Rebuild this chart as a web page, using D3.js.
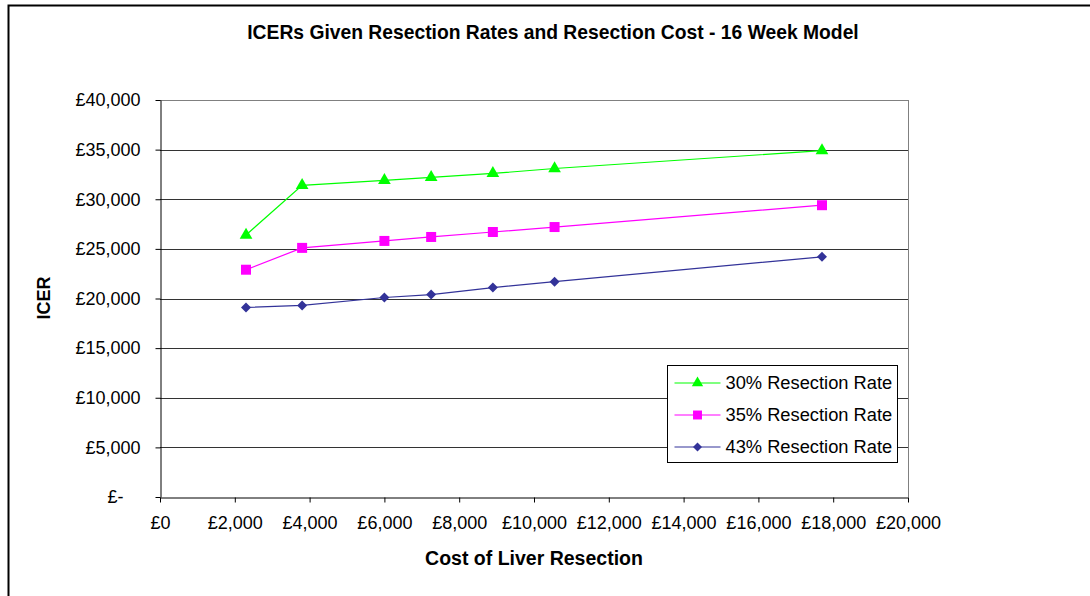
<!DOCTYPE html>
<html>
<head>
<meta charset="utf-8">
<script src="https://cdn.jsdelivr.net/npm/d3@7"></script>
<style>
  body { margin: 0; background: #fff; }
  svg text { font-family: "Liberation Sans", Arial, sans-serif; fill: #000; }
</style>
</head>
<body>
<div id="chart"></div>
<script>
const costs = [2300, 3800, 6000, 7250, 8900, 10550, 17700];
const rate30 = [26400, 31400, 31900, 32200, 32600, 33100, 34900];
const rate35 = [22900, 25100, 25800, 26200, 26700, 27200, 29400];
const rate43 = [19100, 19300, 20100, 20400, 21100, 21700, 24200];
const seriesNames = ["30% Resection Rate", "35% Resection Rate", "43% Resection Rate"];
const xTicks = d3.range(0, 20001, 2000);
const yTicks = d3.range(0, 40001, 5000);

const width = 1090, height = 596;
const margin = { top: 100, right: 182, bottom: 99, left: 160 };

// square diamond (rotated square), Excel style
const squareDiamond = {
  draw(context, size) {
    const r = Math.sqrt(size / 2);
    context.moveTo(0, -r);
    context.lineTo(r, 0);
    context.lineTo(0, r);
    context.lineTo(-r, 0);
    context.closePath();
  },
};

const series = [
  { name: seriesNames[0], values: rate30, color: "#00ff00", symbol: d3.symbolTriangle, size: 70 },
  { name: seriesNames[1], values: rate35, color: "#ff00ff", symbol: d3.symbolSquare, size: 100 },
  { name: seriesNames[2], values: rate43, color: "#333399", symbol: squareDiamond, size: 50 },
];

const svg = d3.select("#chart").append("svg")
  .attr("width", width)
  .attr("height", height);

// outer chart border (only left and top visible)
svg.append("path")
  .attr("d", `M8.5,${height} V5.5 H${width}`)
  .attr("fill", "none")
  .attr("stroke", "#000")
  .attr("stroke-width", 2);

const x = d3.scaleLinear().domain([0, 20000]).range([margin.left, width - margin.right]);
const y = d3.scaleLinear().domain([0, 40000]).range([height - margin.bottom, margin.top]);

const pound = (d) => "£" + d3.format(",")(d);

// gridlines
svg.append("g")
  .selectAll("line")
  .data(yTicks.filter((d) => d > 0))
  .join("line")
  .attr("x1", x(0))
  .attr("x2", x(20000))
  .attr("y1", (d) => Math.round(y(d)) + 0.5)
  .attr("y2", (d) => Math.round(y(d)) + 0.5)
  .attr("stroke", (d) => (d === 40000 ? "#808080" : "#333"))
  .attr("stroke-width", 1);

// plot area right border
svg.append("line")
  .attr("x1", Math.round(x(20000)) + 0.5)
  .attr("x2", Math.round(x(20000)) + 0.5)
  .attr("y1", y(40000))
  .attr("y2", y(0))
  .attr("stroke", "#808080");

// x axis
const xAxis = svg.append("g")
  .attr("transform", `translate(0,${Math.round(y(0)) + 0.5})`)
  .call(d3.axisBottom(x).tickValues(xTicks).tickFormat(pound).tickSize(5).tickSizeOuter(0));
xAxis.select(".domain").attr("stroke", "#000");
xAxis.selectAll(".tick line").attr("stroke", "#000");
xAxis.selectAll(".tick text")
  .attr("y", 19)
  .attr("font-size", 18)
  .attr("font-family", "Liberation Sans, Arial, sans-serif");

// y axis
const yAxis = svg.append("g")
  .attr("transform", `translate(${Math.round(x(0)) + 0.5},0)`)
  .call(d3.axisLeft(y).tickValues(yTicks).tickFormat((d) => (d === 0 ? "£-" : pound(d))).tickSize(5).tickSizeOuter(0));
yAxis.select(".domain").attr("stroke", "#000");
yAxis.selectAll(".tick line").attr("stroke", "#000");
yAxis.selectAll(".tick text")
  .attr("x", (d) => (d === 0 ? -37 : -20))
  .attr("font-size", 18)
  .attr("font-family", "Liberation Sans, Arial, sans-serif");

// lines and markers
const line = d3.line()
  .x((d, i) => x(costs[i]))
  .y((d) => y(d));

const gSeries = svg.append("g")
  .selectAll("g")
  .data(series)
  .join("g");

gSeries.append("path")
  .attr("d", (s) => line(s.values))
  .attr("fill", "none")
  .attr("stroke", (s) => s.color)
  .attr("stroke-width", 1.2);

gSeries.selectAll(".marker")
  .data((s) => s.values.map((v, i) => ({ s, v, i })))
  .join("path")
  .attr("class", "marker")
  .attr("transform", (d) => `translate(${x(costs[d.i])},${y(d.v)})`)
  .attr("d", (d) => d3.symbol(d.s.symbol, d.s.size)())
  .attr("fill", (d) => d.s.color);

// legend
const legend = svg.append("g").attr("transform", "translate(667.5,365.5)");
legend.append("rect")
  .attr("width", 230)
  .attr("height", 97)
  .attr("fill", "#fff")
  .attr("stroke", "#000");

const item = legend.selectAll(".item")
  .data(series)
  .join("g")
  .attr("class", "item")
  .attr("transform", (d, i) => `translate(0,${17.5 + i * 32})`);
item.append("line")
  .attr("x1", 7).attr("x2", 53)
  .attr("stroke", (d) => d.color)
  .attr("stroke-width", 1.2);
item.append("path")
  .attr("transform", "translate(30,0)")
  .attr("d", (d) => d3.symbol(d.symbol, d.size * 0.8)())
  .attr("fill", (d) => d.color);
item.append("text")
  .attr("x", 58)
  .attr("dy", "0.35em")
  .attr("font-size", 18.3)
  .text((d) => d.name);

// titles
svg.append("text")
  .attr("x", 553)
  .attr("y", 39)
  .attr("text-anchor", "middle")
  .attr("font-size", 19.3)
  .attr("font-weight", "bold")
  .text("ICERs Given Resection Rates and Resection Cost - 16 Week Model");

svg.append("text")
  .attr("x", 534)
  .attr("y", 565)
  .attr("text-anchor", "middle")
  .attr("font-size", 19.5)
  .attr("font-weight", "bold")
  .text("Cost of Liver Resection");

svg.append("text")
  .attr("transform", "translate(50,298) rotate(-90)")
  .attr("text-anchor", "middle")
  .attr("font-size", 18)
  .attr("font-weight", "bold")
  .text("ICER");
</script>
</body>
</html>
